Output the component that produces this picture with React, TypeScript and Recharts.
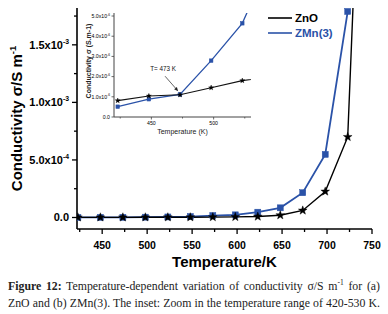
import React from 'react';
import { LineChart, Line, XAxis, YAxis, Legend, ReferenceLine, Label } from 'recharts';

// ---------- data ----------
const temperatures = [423, 448, 473, 498, 523, 548, 573, 598, 623, 648, 673, 698, 723, 748];
const znoConductivity = [0.81e-6, 1.04e-6, 1.1e-6, 1.45e-6, 1.8e-6, 2.0e-6, 3.0e-6, 5.0e-6, 8.0e-6, 2.0e-5, 6.1e-5, 2.26e-4, 7.0e-4, 5.5e-3];
const zmnConductivity = [0.51e-6, 0.88e-6, 1.12e-6, 2.79e-6, 4.64e-6, 8.1e-6, 1.7e-5, 2.3e-5, 4.6e-5, 8.4e-5, 2.15e-4, 5.48e-4, 1.79e-3, null];
const seriesNames = { zno: 'ZnO', zmn: 'ZMn(3)' };
const legendOrder = ['zno', 'zmn'];

const mainXTicks = [425, 450, 475, 500, 525, 550, 575, 600, 625, 650, 675, 700, 725, 750];
const mainXTickLabels = ['', '450', '', '500', '', '550', '', '600', '', '650', '', '700', '', '750'];
const mainYTicks = [0, 0.00025, 0.0005, 0.00075, 0.001, 0.00125, 0.0015, 0.00175];
const mainYTickLabels: [string, string][] = [
  ['0.0', ''], ['', ''], ['5.0x10', '-4'], ['', ''], ['1.0x10', '-3'], ['', ''], ['1.5x10', '-3'], ['', ''],
];
const insetXTicks = [425, 450, 475, 500, 525];
const insetXTickLabels = ['', '450', '', '500', ''];
const insetYTicks = [0, 1e-6, 2e-6, 3e-6, 4e-6, 5e-6];
const insetYTickLabels: [string, string][] = [
  ['0.0', ''], ['1.0x10', '-6'], ['2.0x10', '-6'], ['3.0x10', '-6'], ['4.0x10', '-6'], ['5.0x10', '-6'],
];
const annotationText = 'T= 473 K';
const annotationSegment = [{ x: 461, y: 2.02e-6 }, { x: 471.5, y: 1.28e-6 }];

const data = temperatures.map((t, i) => ({ t, zno: znoConductivity[i], zmn: zmnConductivity[i] }));

// ---------- styles ----------
const SANS = '"Liberation Sans", Arial, sans-serif';
const BLUE = '#2a52a8';
const BLACK = '#000000';

// ---------- markers ----------
const starPath = (cx: number, cy: number, ro: number, ri: number) => {
  let d = '';
  for (let k = 0; k < 10; k++) {
    const r = k % 2 === 0 ? ro : ri;
    const a = -Math.PI / 2 + (k * Math.PI) / 5;
    d += (k === 0 ? 'M' : 'L') + (cx + r * Math.cos(a)).toFixed(2) + ',' + (cy + r * Math.sin(a)).toFixed(2);
  }
  return d + 'Z';
};

const makeStar = (ro: number, ri: number) => (props: any) => {
  const { cx, cy, index } = props;
  if (cx == null || cy == null || isNaN(cx) || isNaN(cy)) return <g key={`s${index}`} />;
  return <path key={`s${index}`} d={starPath(cx, cy, ro, ri)} fill={BLACK} stroke={BLACK} strokeWidth={0.4} />;
};

const makeSquare = (size: number) => (props: any) => {
  const { cx, cy, index } = props;
  if (cx == null || cy == null || isNaN(cx) || isNaN(cy)) return <g key={`q${index}`} />;
  return <rect key={`q${index}`} x={cx - size / 2} y={cy - size / 2} width={size} height={size} fill={BLUE} stroke={BLUE} strokeWidth={0.5} />;
};

// ---------- ticks ----------
const makeXTick = (ticks: number[], labels: string[], majorLen: number, minorLen: number, fontSize: number, dy: number, weight: number, sw: number, color: string) => (props: any) => {
  const { x, y, payload } = props;
  const i = ticks.indexOf(payload.value);
  const label = i >= 0 ? labels[i] : '';
  const major = label !== '';
  return (
    <g>
      <line x1={x} y1={y} x2={x} y2={y + (major ? majorLen : minorLen)} stroke={color} strokeWidth={sw} />
      {major && (
        <text x={x} y={y + dy} textAnchor="middle" fontSize={fontSize} fontWeight={weight} fontFamily={SANS} fill="#000">
          {label}
        </text>
      )}
    </g>
  );
};

const makeYTick = (ticks: number[], labels: [string, string][], majorLen: number, minorLen: number, fontSize: number, gap: number, weight: number, sw: number, color: string) => (props: any) => {
  const { x, y, payload } = props;
  let i = -1;
  ticks.forEach((t, k) => { if (Math.abs(t - payload.value) < 1e-12) i = k; });
  const [base, sup] = i >= 0 ? labels[i] : ['', ''];
  const major = base !== '';
  return (
    <g>
      <line x1={x} y1={y} x2={x - (major ? majorLen : minorLen)} y2={y} stroke={color} strokeWidth={sw} />
      {major && (
        <text x={x - gap} y={y + fontSize * 0.36} textAnchor="end" fontSize={fontSize} fontWeight={weight} fontFamily={SANS} fill="#000">
          {base}
          {sup && (
            <tspan dy={-fontSize * 0.45} fontSize={fontSize * 0.62}>{sup}</tspan>
          )}
        </text>
      )}
    </g>
  );
};

// ---------- legend ----------
const renderLegend = (props: any) => {
  const payload = props.payload || [];
  const items = legendOrder.map((k) => payload.find((p: any) => p.dataKey === k)).filter(Boolean);
  return (
    <div style={{ display: 'flex', flexDirection: 'column' }}>
      {items.map((p: any) => (
        <div key={p.dataKey} style={{ display: 'flex', alignItems: 'center', height: 14.5 }}>
          <svg width={26} height={4} style={{ display: 'block' }}>
            <line x1={0} y1={2} x2={24} y2={2} stroke={p.color} strokeWidth={1.6} />
          </svg>
          <span style={{ color: p.color, fontWeight: 700, fontSize: 11.5, fontFamily: SANS, marginLeft: 1, lineHeight: '14px' }}>
            {p.value}
          </span>
        </div>
      ))}
    </div>
  );
};

// ---------- annotation ----------
const ArrowShape = (props: any) => {
  const { x1, y1, x2, y2 } = props;
  if ([x1, y1, x2, y2].some((v) => v == null || isNaN(v))) return <g />;
  const ang = Math.atan2(y2 - y1, x2 - x1);
  const L = 4, W = 1.8;
  const bx = x2 - L * Math.cos(ang), by = y2 - L * Math.sin(ang);
  const px = -Math.sin(ang) * W, py = Math.cos(ang) * W;
  return (
    <g>
      <line x1={x1} y1={y1} x2={bx} y2={by} stroke="#222" strokeWidth={0.7} />
      <path d={`M${x2},${y2}L${bx + px},${by + py}L${bx - px},${by - py}Z`} fill="#222" />
      <text x={x1 - 2} y={y1 - 5} textAnchor="middle" fontSize={6.3} fontFamily={SANS} fill="#111">
        {annotationText}
      </text>
    </g>
  );
};

// ---------- titles ----------
const MainYTitle = (props: any) => {
  const vb = props.viewBox || { x: 0, y: 8, width: 77, height: 221 };
  const x = vb.x + 22;
  const y = vb.y + vb.height / 2;
  return (
    <text x={x} y={y} transform={`rotate(-90, ${x}, ${y})`} textAnchor="middle" fontSize={15} fontWeight={700} fontFamily={SANS} fill="#000">
      Conductivity σ/S m<tspan dy={-6} fontSize={9.5}>-1</tspan>
    </text>
  );
};

const MainXTitle = (props: any) => {
  const vb = props.viewBox || { x: 77, y: 229, width: 295, height: 46 };
  return (
    <text x={vb.x + vb.width / 2} y={vb.y + 38} textAnchor="middle" fontSize={15} fontWeight={700} fontFamily={SANS} fill="#000">
      Temperature/K
    </text>
  );
};

const InsetYTitle = (props: any) => {
  const vb = props.viewBox || { x: 0, y: 8, width: 34, height: 104 };
  const x = vb.x + 11;
  const y = vb.y + vb.height / 2 - 4;
  return (
    <text x={x} y={y} transform={`rotate(-90, ${x}, ${y})`} textAnchor="middle" fontSize={7} fontWeight={700} fontFamily={SANS} fill="#222">
      Conductivity σ (S.m-1)
    </text>
  );
};

const InsetXTitle = (props: any) => {
  const vb = props.viewBox || { x: 34, y: 112, width: 137, height: 23 };
  return (
    <text x={vb.x + vb.width / 2} y={vb.y + 16.5} textAnchor="middle" fontSize={7} fontFamily={SANS} fill="#222">
      Temperature (K)
    </text>
  );
};

export default function App() {
  return (
    <div style={{ position: 'absolute', left: 0, top: 0, width: 388, height: 314, background: '#fff', overflow: 'hidden' }}>
      {/* main chart */}
      <div style={{ position: 'absolute', left: 0, top: 0 }}>
        <LineChart width={388} height={275} data={data} margin={{ top: 8, right: 16, left: 0, bottom: 0 }}>
          <XAxis
            dataKey="t"
            type="number"
            domain={[422, 750]}
            allowDataOverflow
            ticks={mainXTicks}
            interval={0}
            height={46}
            tickSize={0}
            tickMargin={0}
            tickLine={false}
            axisLine={{ stroke: BLACK, strokeWidth: 1.6 }}
            tick={makeXTick(mainXTicks, mainXTickLabels, 5, 3, 10.5, 20, 700, 1.3, BLACK)}
          >
            <Label content={MainXTitle} />
          </XAxis>
          <XAxis xAxisId="top" orientation="top" type="number" domain={[0, 1]} height={0} tick={false} tickLine={false} axisLine={{ stroke: BLACK, strokeWidth: 1.6 }} />
          <YAxis
            type="number"
            domain={[-0.0001, 0.00182]}
            allowDataOverflow
            ticks={mainYTicks}
            interval={0}
            width={77}
            tickSize={0}
            tickMargin={0}
            tickLine={false}
            axisLine={{ stroke: BLACK, strokeWidth: 1.6 }}
            tick={makeYTick(mainYTicks, mainYTickLabels, 5, 3, 11, 8, 700, 1.3, BLACK)}
          >
            <Label content={MainYTitle} />
          </YAxis>
          <YAxis yAxisId="right" orientation="right" type="number" domain={[0, 1]} width={0} tick={false} tickLine={false} axisLine={{ stroke: BLACK, strokeWidth: 1.6 }} />
          <Legend
            layout="vertical"
            align="center"
            verticalAlign="middle"
            content={renderLegend}
            wrapperStyle={{ left: 268, top: 11, width: 110, height: 30 }}
          />
          <Line dataKey="zmn" name={seriesNames.zmn} stroke={BLUE} strokeWidth={1.8} dot={makeSquare(6)} activeDot={false} isAnimationActive={false} connectNulls={false} />
          <Line dataKey="zno" name={seriesNames.zno} stroke={BLACK} strokeWidth={1.4} dot={makeStar(4.6, 1.9)} activeDot={false} isAnimationActive={false} />
        </LineChart>
      </div>

      {/* inset chart */}
      <div style={{ position: 'absolute', left: 80, top: 5 }}>
        <LineChart width={175} height={135} data={data} margin={{ top: 8, right: 4, left: 0, bottom: 0 }}>
          <XAxis
            dataKey="t"
            type="number"
            domain={[420, 530]}
            allowDataOverflow
            ticks={insetXTicks}
            interval={0}
            height={23}
            tickSize={0}
            tickMargin={0}
            tickLine={false}
            axisLine={{ stroke: '#444', strokeWidth: 1 }}
            tick={makeXTick(insetXTicks, insetXTickLabels, 2.5, 1.5, 5.2, 7.5, 400, 0.8, '#444')}
          >
            <Label content={InsetXTitle} />
          </XAxis>
          <XAxis xAxisId="top" orientation="top" type="number" domain={[0, 1]} height={0} tick={false} tickLine={false} axisLine={{ stroke: '#555', strokeWidth: 1 }} />
          <YAxis
            type="number"
            domain={[0, 5.15e-6]}
            allowDataOverflow
            ticks={insetYTicks}
            interval={0}
            width={34}
            tickSize={0}
            tickMargin={0}
            tickLine={false}
            axisLine={{ stroke: '#444', strokeWidth: 1 }}
            tick={makeYTick(insetYTicks, insetYTickLabels, 2.5, 1.5, 5.2, 4, 400, 0.8, '#444')}
          >
            <Label content={InsetYTitle} />
          </YAxis>
          <YAxis yAxisId="right" orientation="right" type="number" domain={[0, 1]} width={0} tick={false} tickLine={false} axisLine={{ stroke: '#555', strokeWidth: 1 }} />
          <Line dataKey="zmn" name={seriesNames.zmn} stroke={BLUE} strokeWidth={1.3} dot={makeSquare(3.6)} activeDot={false} isAnimationActive={false} />
          <Line dataKey="zno" name={seriesNames.zno} stroke="#111" strokeWidth={1.1} dot={makeStar(2.6, 1.1)} activeDot={false} isAnimationActive={false} />
          <ReferenceLine segment={annotationSegment} ifOverflow="visible" shape={ArrowShape} />
        </LineChart>
      </div>

      {/* caption */}
      <div
        style={{
          position: 'absolute',
          left: 8,
          top: 278,
          width: 372,
          fontFamily: '"Liberation Serif", "Times New Roman", serif',
          fontSize: 11.8,
          lineHeight: '17px',
          color: '#222',
        }}
      >
        <div style={{ textAlign: 'justify', textAlignLast: 'justify', whiteSpace: 'nowrap' }}>
          <b>Figure 12:</b> Temperature-dependent variation of conductivity σ/S m<sup style={{ fontSize: 7.5, verticalAlign: 'top', lineHeight: '10px' }}>-1</sup> for (a)
        </div>
        <div style={{ textAlign: 'justify', textAlignLast: 'justify', whiteSpace: 'nowrap' }}>
          ZnO and (b) ZMn(3). The inset: Zoom in the temperature range of 420-530 K.
        </div>
      </div>
    </div>
  );
}
